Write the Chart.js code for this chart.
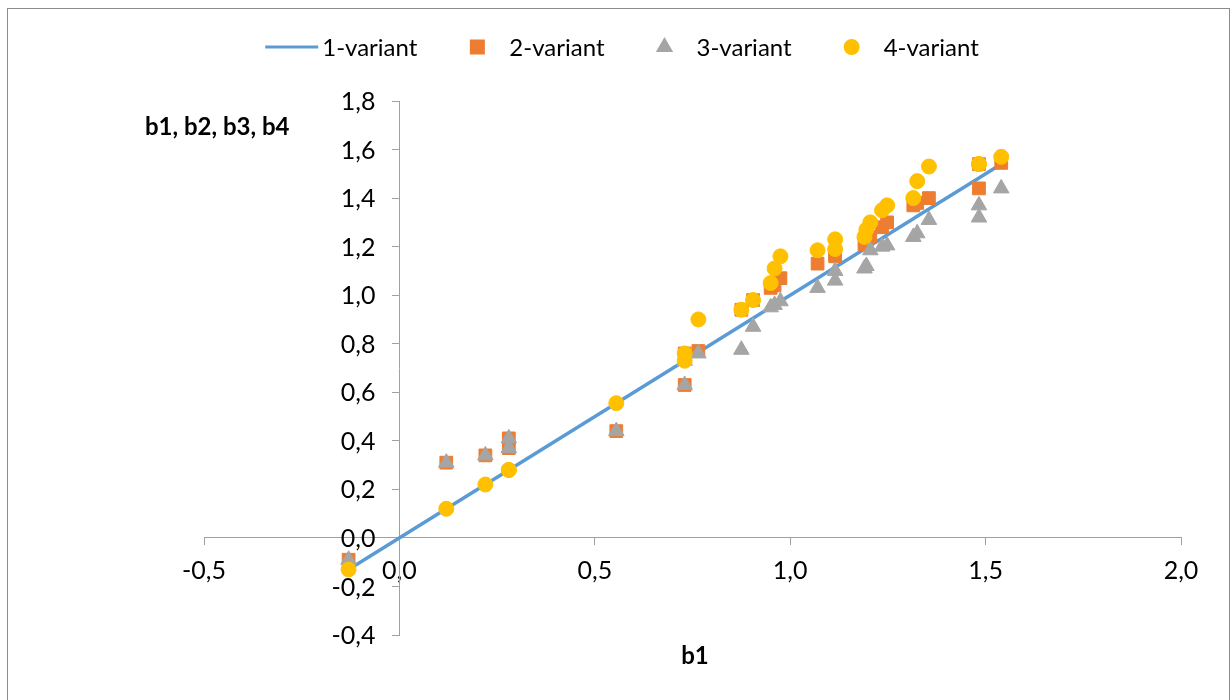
<!DOCTYPE html>
<html>
<head>
<meta charset="utf-8">
<script src="https://cdn.jsdelivr.net/npm/chart.js@4/dist/chart.umd.min.js"></script>
<style>
  body { margin: 0; background: #ffffff; }
  #wrap { position: relative; width: 1230px; height: 700px; overflow: hidden; }
  #frame { position: absolute; left: 7px; top: 8px; width: 1221px; height: 700px; border: 1px solid #8c8c8c; }
  canvas { position: absolute; left: 0; top: 0; }
</style>
</head>
<body>
<div id="wrap">
  <div id="frame"></div>
  <canvas id="chart" width="1230" height="700"></canvas>
</div>
<script>
// b1 values (shared x) and the four variants
const b1 = [-0.13, 0.12, 0.22, 0.28, 0.28, 0.555, 0.73, 0.73, 0.765, 0.875, 0.905, 0.95, 0.96, 0.975,
  1.07, 1.115, 1.115, 1.19, 1.195, 1.205, 1.235, 1.248, 1.315, 1.325, 1.355, 1.483, 1.483, 1.54];
const variant1 = [-0.13, 0.12, 0.22, 0.28, 0.28, 0.555, 0.73, 0.73, 0.765, 0.875, 0.905, 0.95, 0.96, 0.975,
  1.07, 1.115, 1.115, 1.19, 1.195, 1.205, 1.235, 1.248, 1.315, 1.325, 1.355, 1.483, 1.483, 1.54];
const variant2 = [-0.09, 0.31, 0.34, 0.41, 0.37, 0.44, 0.63, 0.76, 0.77, 0.94, 0.98, 1.03, 1.04, 1.07,
  1.13, 1.17, 1.16, 1.21, 1.22, 1.24, 1.28, 1.30, 1.37, 1.38, 1.40, 1.54, 1.44, 1.545];
const variant3 = [-0.09, 0.31, 0.34, 0.41, 0.37, 0.44, 0.63, 0.73, 0.76, 0.775, 0.87, 0.95, 0.96, 0.975,
  1.03, 1.10, 1.06, 1.11, 1.12, 1.185, 1.20, 1.205, 1.24, 1.255, 1.31, 1.37, 1.32, 1.44];
const variant4 = [-0.13, 0.12, 0.22, 0.28, 0.28, 0.555, 0.73, 0.76, 0.90, 0.94, 0.98, 1.05, 1.11, 1.16,
  1.185, 1.23, 1.19, 1.24, 1.27, 1.30, 1.35, 1.37, 1.40, 1.47, 1.53, 1.54, 1.54, 1.57];

const seriesNames = ["1-variant", "2-variant", "3-variant", "4-variant"];
const xTitle = "b1";
const yTitle = "b1, b2, b3, b4";

const FONT = "Lato";
const axisColor = "#a0a0a0";

function toPoints(ys) {
  return b1.map((x, i) => ({ x: x, y: ys[i] }));
}

// decimal comma like the original
function commaLabel(value) {
  return Number(value).toFixed(1).replace(".", ",");
}

// legend, axis titles and y tick labels drawn by hand so they sit where the original has them
const extrasPlugin = {
  id: "extras",
  afterDraw(chart) {
    const ctx = chart.ctx;
    ctx.save();
    ctx.fillStyle = "#000";
    ctx.textBaseline = "middle";

    // y tick labels, left of the axis that crosses at x = 0
    const xScale = chart.scales.x;
    const yScale = chart.scales.y;
    const axisX = xScale.getPixelForValue(0);
    ctx.font = "25px " + FONT;
    ctx.textAlign = "right";
    yScale.ticks.forEach(t => {
      ctx.fillText(commaLabel(t.value), axisX - 24, yScale.getPixelForValue(t.value) + 1);
    });

    // axis titles
    ctx.font = "bold 24px " + FONT;
    ctx.textAlign = "left";
    ctx.fillText(yTitle, 145, 127);
    ctx.textAlign = "center";
    ctx.fillText(xTitle, 695, 656);

    // legend
    ctx.font = "24px " + FONT;
    ctx.textAlign = "left";
    const legendY = 47;
    const widths = chart.data.datasets.map(ds => ctx.measureText(ds.label).width);
    let total = 57 + widths[0];
    for (let i = 1; i < widths.length; i++) total += 60 + 32 + widths[i];
    let x = 622 - total / 2;
    chart.data.datasets.forEach((ds, i) => {
      let textX;
      if (i === 0) {
        ctx.strokeStyle = ds.borderColor;
        ctx.lineWidth = 3;
        ctx.beginPath();
        ctx.moveTo(x, legendY);
        ctx.lineTo(x + 53, legendY);
        ctx.stroke();
        textX = x + 57;
      } else {
        const cx = x + 60;
        ctx.fillStyle = ds.pointBackgroundColor;
        ctx.strokeStyle = ds.pointBorderColor;
        Chart.helpers.drawPoint(ctx, { pointStyle: ds.pointStyle, radius: ds.legendRadius, borderWidth: 1, rotation: 0 }, cx, legendY);
        textX = cx + 32;
      }
      ctx.fillStyle = "#000";
      ctx.fillText(ds.label, textX, legendY + 1);
      x = textX + widths[i];
    });
    ctx.restore();
  }
};

const ctx = document.querySelector("#chart").getContext("2d");
const chart = new Chart(ctx, {
  type: "scatter",
  data: {
    datasets: [
      {
        label: seriesNames[0],
        data: toPoints(variant1),
        showLine: true,
        borderColor: "#5b9bd5",
        backgroundColor: "#5b9bd5",
        borderWidth: 3.5,
        pointRadius: 0,
        order: 4
      },
      {
        label: seriesNames[1],
        data: toPoints(variant2),
        pointStyle: "rect",
        pointRadius: 9,
        legendRadius: 8.5,
        pointBackgroundColor: "#ed7d31",
        pointBorderColor: "#ed7d31",
        backgroundColor: "#ed7d31",
        borderColor: "#ed7d31",
        pointBorderWidth: 1,
        order: 3
      },
      {
        label: seriesNames[2],
        data: toPoints(variant3),
        pointStyle: "triangle",
        pointRadius: 9,
        legendRadius: 7,
        pointBackgroundColor: "#a5a5a5",
        pointBorderColor: "#a5a5a5",
        backgroundColor: "#a5a5a5",
        borderColor: "#a5a5a5",
        pointBorderWidth: 1,
        order: 2
      },
      {
        label: seriesNames[3],
        data: toPoints(variant4),
        pointStyle: "circle",
        pointRadius: 7.5,
        legendRadius: 6.5,
        pointBackgroundColor: "#ffc000",
        pointBorderColor: "#ffc000",
        backgroundColor: "#ffc000",
        borderColor: "#ffc000",
        pointBorderWidth: 1,
        order: 1
      }
    ]
  },
  options: {
    responsive: false,
    animation: false,
    layout: {
      padding: { left: 204, right: 49, top: 101, bottom: 65 }
    },
    plugins: {
      legend: { display: false },
      tooltip: { enabled: false }
    },
    scales: {
      x: {
        type: "linear",
        position: { y: 0 },
        min: -0.5,
        max: 2.0,
        ticks: {
          stepSize: 0.5,
          padding: 11,
          color: "#000",
          font: { family: FONT, size: 25 },
          maxRotation: 0,
          callback: commaLabel
        },
        grid: {
          drawOnChartArea: false,
          drawTicks: true,
          tickLength: 7,
          color: axisColor
        },
        border: { display: true, color: axisColor, width: 1 }
      },
      y: {
        type: "linear",
        position: { x: 0 },
        min: -0.4,
        max: 1.8,
        ticks: {
          stepSize: 0.2,
          display: false
        },
        grid: {
          drawOnChartArea: false,
          drawTicks: true,
          tickLength: 7,
          color: axisColor
        },
        border: { display: true, color: axisColor, width: 1 }
      }
    }
  },
  plugins: [extrasPlugin]
});
</script>
</body>
</html>
